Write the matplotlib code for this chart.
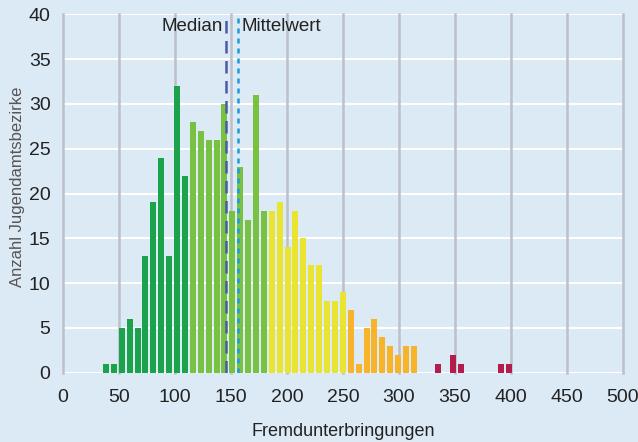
import matplotlib.pyplot as plt
import numpy as np

# Anzahl Jugendamtsbezirke je Klasse (Klassenbreite ca. 7 Fremdunterbringungen)
anzahl = [1, 1, 5, 6, 5, 13, 19, 24, 13, 32, 22,
          28, 27, 26, 26, 30, 18, 23, 17, 31, 18,
          18, 19, 14, 18, 15, 12, 12, 8, 8, 9,
          7, 1, 5, 6, 4, 3, 2, 3, 3,
          0, 0, 1, 0, 2, 1, 0, 0, 0, 0, 1, 1]
# Farbgruppe je Klasse
gruppe = [0] * 11 + [1] * 10 + [2] * 10 + [3] * 9 + [4] * 12
median = 145.5
mittelwert = 156

farben = ["#1aa34a", "#79c143", "#e8e431", "#f7b42a", "#b31d4b"]
bg = "#dceaf6"
klasse_start = 35.7
klasse_breite = 7.05

mitte = klasse_start + klasse_breite * np.arange(len(anzahl)) + 2.7
bar_farben = [farben[g] for g in gruppe]

fig = plt.figure(figsize=(6.38, 4.42), dpi=100, facecolor=bg)
ax = fig.add_axes([0.0987, 0.1568, 0.8778, 0.8108], facecolor=bg)

ax.set_xlim(0, 500)
ax.set_ylim(0, 40)

for y in range(0, 45, 5):
    ax.axhline(y, color="white", lw=1.5, zorder=1)
for x in range(0, 550, 50):
    ax.axvline(x, color="#bcc0c8", lw=1.8, zorder=1.5, clip_on=False)

ax.bar(mitte, anzahl, width=5.36, color=bar_farben, zorder=2)

ax.axvline(median, color="#4b5aa6", lw=1.8, ls=(0, (5, 3)), zorder=3)
ax.axvline(mittelwert, color="#1c9bd7", lw=1.8, ls=(0, (2, 2)), zorder=3)

font = ["Liberation Sans Narrow", "Liberation Sans", "DejaVu Sans"]
ax.text(median - 3, 39.6, "Median", ha="right", va="top", fontsize=13.5,
        family=font, color="#222222")
ax.text(mittelwert + 3, 39.6, "Mittelwert", ha="left", va="top", fontsize=13.5,
        family=font, color="#222222")

for s in ax.spines.values():
    s.set_visible(False)
ax.set_xticks(range(0, 550, 50))
ax.set_yticks(range(0, 45, 5))
ax.tick_params(length=0, labelsize=14)
ax.tick_params(axis="x", pad=12)
ax.tick_params(axis="y", pad=9)
for lab in ax.get_xticklabels() + ax.get_yticklabels():
    lab.set_family(font)
    lab.set_color("#222222")

ax.set_xlabel("Fremdunterbringungen", fontsize=13, family=font,
              color="#222222", labelpad=12)
ax.set_ylabel("Anzahl Jugendamtsbezirke", fontsize=12, family=font,
              color="#555555")
ax.yaxis.set_label_coords(-0.067, 0.52)

fig.savefig("out.png", dpi=100, facecolor=bg)
